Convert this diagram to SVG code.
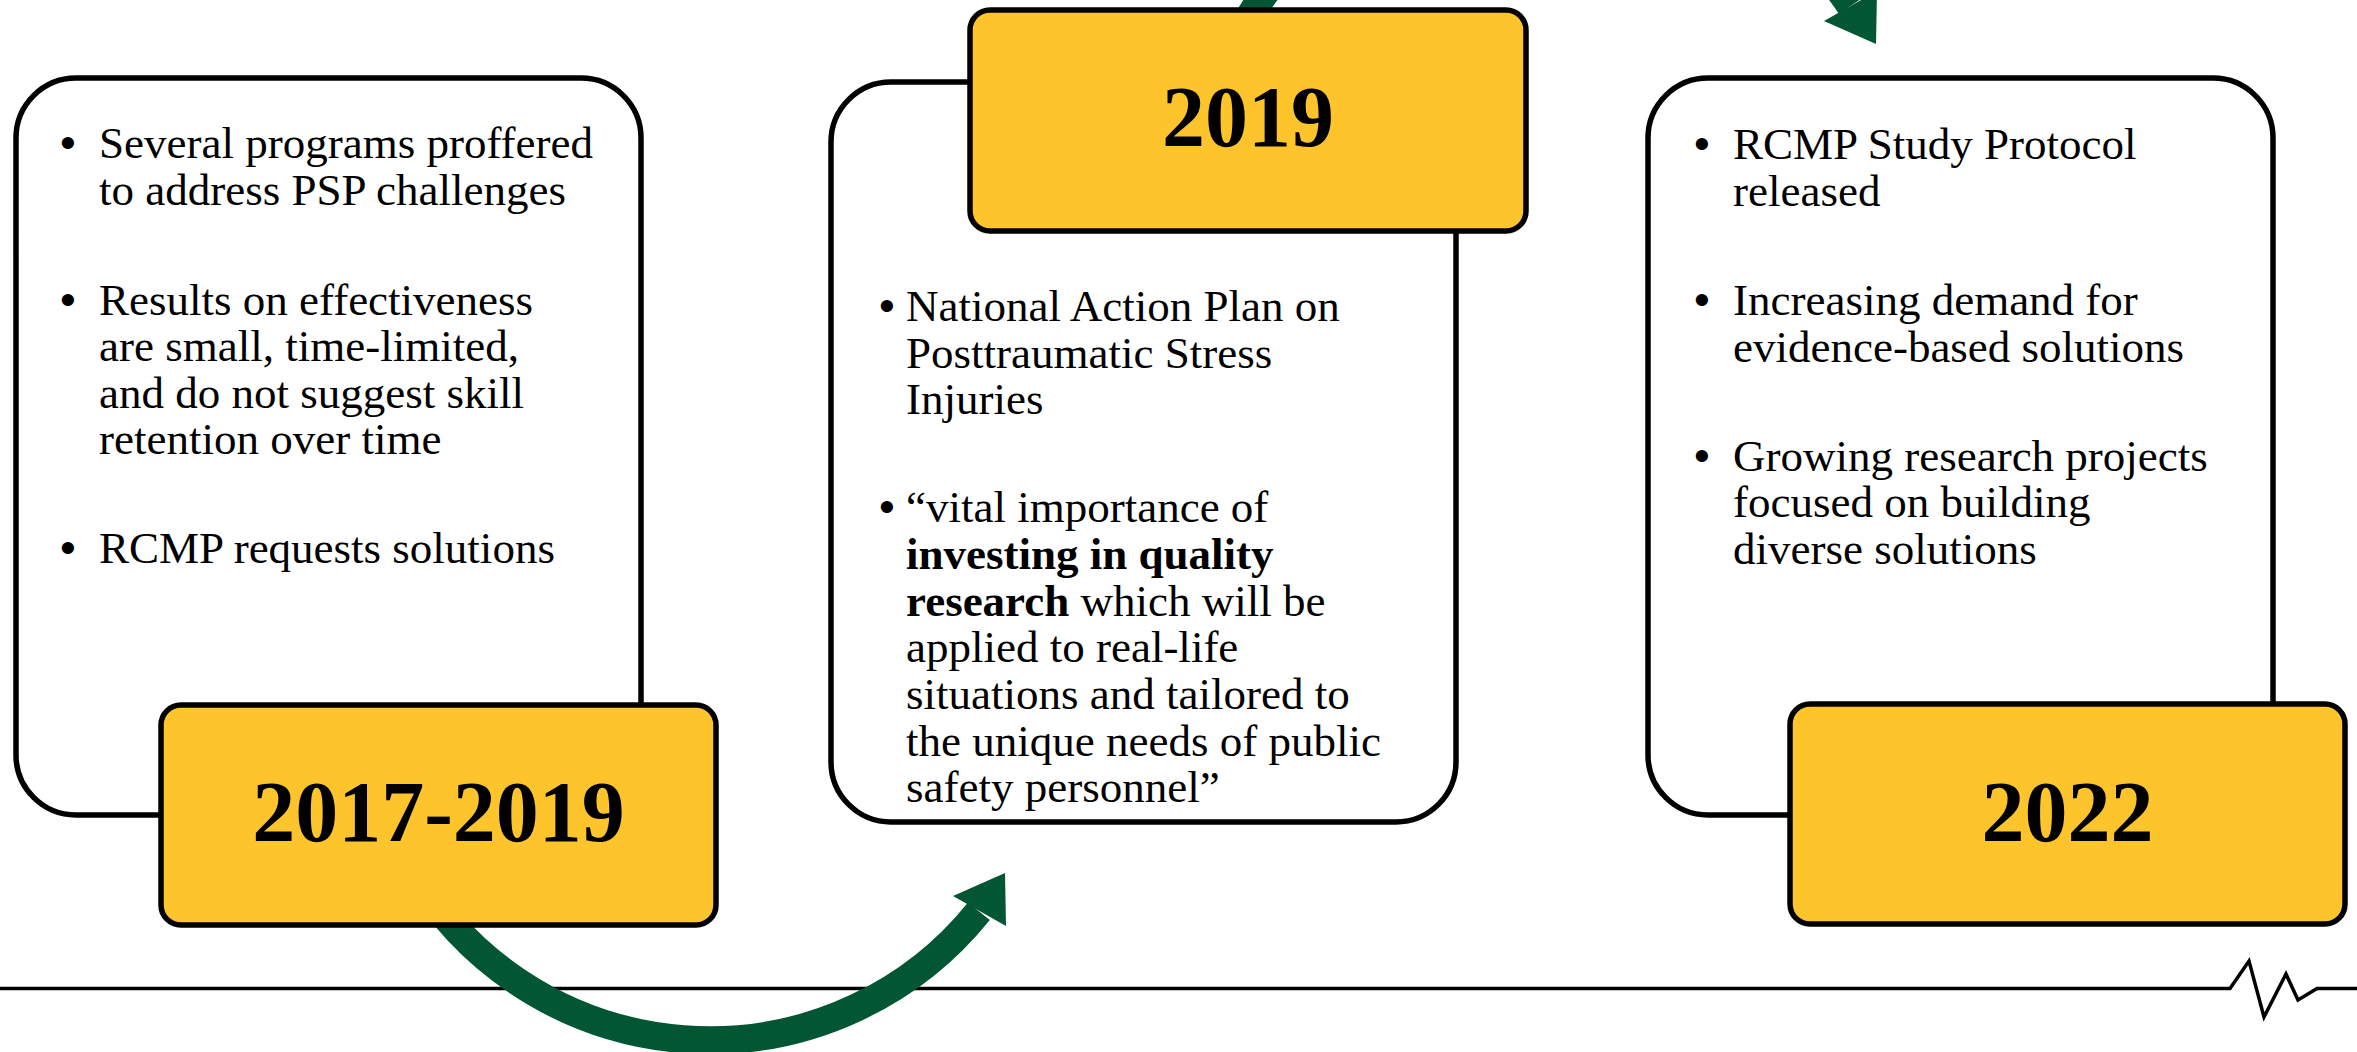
<svg xmlns="http://www.w3.org/2000/svg" width="2357" height="1052" viewBox="0 0 2357 1052">
<defs>
<style>
.card{fill:#ffffff;stroke:#000000;stroke-width:5.5}
.year{fill:#FDC52B;stroke:#000000;stroke-width:5.5}
.yt{font-family:"Liberation Serif","Times New Roman",serif;font-weight:bold;font-size:86px;fill:#000000;text-anchor:middle}
.tx{font-family:"Liberation Serif","Times New Roman",serif;font-size:45px;fill:#000000}
.b{font-weight:bold}
.bul{font-family:"Liberation Sans",Arial,sans-serif;font-size:45px;fill:#000000;text-anchor:middle}
.arc{fill:none;stroke:#035634;stroke-width:28}
.head{fill:#035634}
</style>
</defs>
<rect width="2357" height="1052" fill="#ffffff"/>
<g id="timeline">
<path d="M0 988.5 H2230 L2249 961 L2264 1017 L2286 974 L2298 1000 L2317 988.5 H2357" fill="none" stroke="#000000" stroke-width="3.5" stroke-linejoin="miter"/>
</g>
<g id="connectors">
<path class="arc" d="M411 867.5 A345 345 0 0 0 978.9 911.2"/>
<polygon class="head" points="1005,873 953,896 1006,926"/>
<path class="arc" d="M1236 40 A358 358 0 0 1 1850.5 6"/>
<polygon class="head" points="1876,44 1824,21 1877,-9"/>
</g>
<g id="node-2017">
<rect class="card" x="16" y="78" width="625" height="737" rx="60"/>
<text class="bul" x="68" y="158">•</text>
<text class="tx" x="99" y="158">Several programs proffered</text>
<text class="tx" x="99" y="205">to address PSP challenges</text>
<text class="bul" x="68" y="315">•</text>
<text class="tx" x="99" y="315">Results on effectiveness</text>
<text class="tx" x="99" y="361">are small, time-limited,</text>
<text class="tx" x="99" y="408">and do not suggest skill</text>
<text class="tx" x="99" y="454">retention over time</text>
<text class="bul" x="68" y="563">•</text>
<text class="tx" x="99" y="563">RCMP requests solutions</text>
<rect class="year" x="161" y="705" width="555" height="220" rx="20"/>
<text class="yt" x="438.5" y="841">2017-2019</text>
</g>
<g id="node-2019">
<rect class="card" x="831" y="82" width="625" height="740" rx="60"/>
<text class="bul" x="887" y="321">•</text>
<text class="tx" x="906" y="321">National Action Plan on</text>
<text class="tx" x="906" y="368">Posttraumatic Stress</text>
<text class="tx" x="906" y="414">Injuries</text>
<text class="bul" x="887" y="522">•</text>
<text class="tx" x="906" y="522">“vital importance of</text>
<text class="tx b" x="906" y="569">investing in quality</text>
<text class="tx" x="906" y="616"><tspan class="b">research</tspan> which will be</text>
<text class="tx" x="906" y="662">applied to real-life</text>
<text class="tx" x="906" y="709">situations and tailored to</text>
<text class="tx" x="906" y="756">the unique needs of public</text>
<text class="tx" x="906" y="802">safety personnel”</text>
<rect class="year" x="970" y="10" width="556" height="221" rx="20"/>
<text class="yt" x="1248" y="146">2019</text>
</g>
<g id="node-2022">
<rect class="card" x="1648" y="78" width="625" height="737" rx="60"/>
<text class="bul" x="1702" y="159">•</text>
<text class="tx" x="1733" y="159">RCMP Study Protocol</text>
<text class="tx" x="1733" y="206">released</text>
<text class="bul" x="1702" y="315">•</text>
<text class="tx" x="1733" y="315">Increasing demand for</text>
<text class="tx" x="1733" y="362">evidence-based solutions</text>
<text class="bul" x="1702" y="471">•</text>
<text class="tx" x="1733" y="471">Growing research projects</text>
<text class="tx" x="1733" y="517">focused on building</text>
<text class="tx" x="1733" y="564">diverse solutions</text>
<rect class="year" x="1790" y="704" width="555" height="220" rx="20"/>
<text class="yt" x="2067.5" y="841">2022</text>
</g>
</svg>
